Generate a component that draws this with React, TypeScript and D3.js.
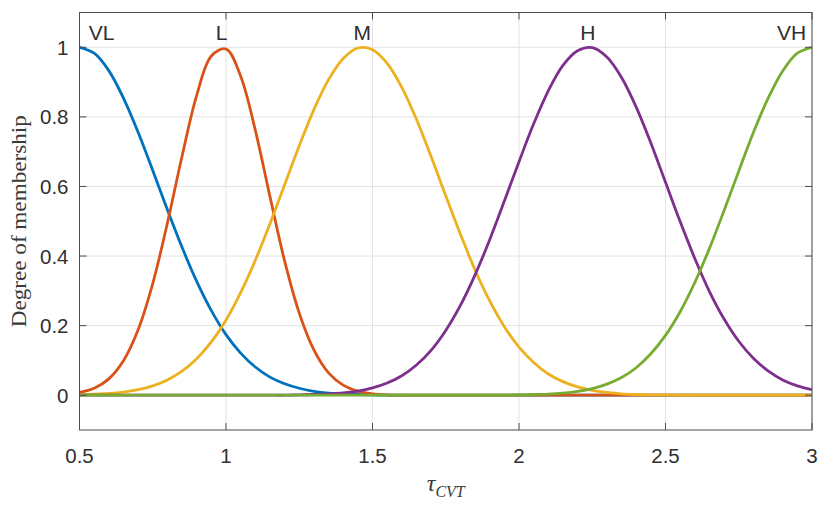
import React from "react";
import * as d3 from "d3";

// Sample grid of the input variable tau_CVT
const tauGrid = [
  0.5, 0.55, 0.6, 0.65, 0.7, 0.75, 0.8, 0.85, 0.9, 0.95,
  1.0, 1.05, 1.1, 1.15, 1.2, 1.25, 1.3, 1.35, 1.4, 1.45,
  1.5, 1.55, 1.6, 1.65, 1.7, 1.75, 1.8, 1.85, 1.9, 1.95,
  2.0, 2.05, 2.1, 2.15, 2.2, 2.25, 2.3, 2.35, 2.4, 2.45,
  2.5, 2.55, 2.6, 2.65, 2.7, 2.75, 2.8, 2.85, 2.9, 2.95,
  3.0,
];

// Membership degrees of each linguistic term on tauGrid
const muVL = [
  1, 0.983, 0.933, 0.854, 0.756, 0.646, 0.533, 0.425, 0.327, 0.243,
  0.174, 0.121, 0.081, 0.052, 0.033, 0.02, 0.011, 0.006, 0.004, 0.002,
  0.001, 0, 0, 0, 0, 0, 0, 0, 0, 0,
  0, 0, 0, 0, 0, 0, 0, 0, 0, 0,
  0, 0, 0, 0, 0, 0, 0, 0, 0, 0,
  0,
];
const muL = [
  0.008, 0.02, 0.047, 0.099, 0.188, 0.321, 0.495, 0.687, 0.862, 0.975,
  0.995, 0.917, 0.762, 0.571, 0.386, 0.236, 0.13, 0.064, 0.029, 0.012,
  0.004, 0.001, 0, 0, 0, 0, 0, 0, 0, 0,
  0, 0, 0, 0, 0, 0, 0, 0, 0, 0,
  0, 0, 0, 0, 0, 0, 0, 0, 0, 0,
  0,
];
const muM = [
  0.001, 0.003, 0.005, 0.009, 0.016, 0.027, 0.044, 0.069, 0.105, 0.153,
  0.216, 0.295, 0.388, 0.493, 0.605, 0.717, 0.821, 0.907, 0.968, 0.998,
  0.993, 0.954, 0.885, 0.793, 0.686, 0.573, 0.463, 0.36, 0.271, 0.197,
  0.138, 0.094, 0.061, 0.039, 0.024, 0.014, 0.008, 0.004, 0.002, 0.001,
  0.001, 0, 0, 0, 0, 0, 0, 0, 0, 0,
  0,
];
const muH = [
  0, 0, 0, 0, 0, 0, 0, 0, 0, 0,
  0, 0, 0, 0, 0, 0.001, 0.002, 0.004, 0.007, 0.012,
  0.021, 0.035, 0.056, 0.087, 0.129, 0.186, 0.258, 0.346, 0.447, 0.558,
  0.671, 0.78, 0.875, 0.948, 0.99, 0.999, 0.972, 0.913, 0.828, 0.725,
  0.612, 0.499, 0.393, 0.298, 0.219, 0.155, 0.106, 0.07, 0.044, 0.027,
  0.016,
];
const muVH = [
  0, 0, 0, 0, 0, 0, 0, 0, 0, 0,
  0, 0, 0, 0, 0, 0, 0, 0, 0, 0,
  0, 0, 0, 0, 0, 0, 0, 0, 0, 0,
  0.001, 0.002, 0.003, 0.006, 0.011, 0.019, 0.032, 0.051, 0.079, 0.119,
  0.172, 0.24, 0.324, 0.422, 0.531, 0.644, 0.755, 0.853, 0.932, 0.983,
  1,
];

const termNames = ["VL", "L", "M", "H", "VH"];
const termLabelTau = [0.575, 0.985, 1.465, 2.235, 2.93];
const xTicks = [0.5, 1, 1.5, 2, 2.5, 3];
const yTicks = [0, 0.2, 0.4, 0.6, 0.8, 1];

const seriesValues = [muVL, muL, muM, muH, muVH];
const colors = ["#0072BD", "#D95319", "#EDB120", "#7E2F8E", "#77AC30"];

const W = 819;
const H = 505;
const margin = { left: 79.5, right: 7, top: 12.5, bottom: 75 };

export default function App() {
  const x = d3
    .scaleLinear()
    .domain([0.5, 3])
    .range([margin.left, W - margin.right]);
  const y = d3
    .scaleLinear()
    .domain([-0.1, 1.1])
    .range([H - margin.bottom, margin.top]);

  const line = d3
    .line<number>()
    .x((_, i) => x(tauGrid[i]))
    .y((d) => y(d))
    .curve(d3.curveCatmullRom.alpha(0.5));

  const x0 = x.range()[0];
  const x1 = x.range()[1];
  const y0 = y.range()[0];
  const y1 = y.range()[1];
  const tickLen = 7;
  const axisColor = "#4d4d4d";
  const textColor = "#303030";
  const sans = "'Liberation Sans', Arial, Helvetica, sans-serif";
  const serif = "'Liberation Serif', 'Times New Roman', serif";

  return (
    <svg
      width={W}
      height={H}
      style={{ position: "absolute", left: 0, top: 0, background: "#fff" }}
    >
      <rect x={0} y={0} width={W} height={H} fill="#fff" />
      <defs>
        <clipPath id="plot-clip">
          <rect x={x0} y={y1} width={x1 - x0} height={y0 - y1} />
        </clipPath>
      </defs>

      {/* grid */}
      <g stroke="#e3e3e3" strokeWidth={1}>
        {xTicks.map((t) => (
          <line key={"gx" + t} x1={x(t)} x2={x(t)} y1={y0} y2={y1} />
        ))}
        {yTicks.map((t) => (
          <line key={"gy" + t} x1={x0} x2={x1} y1={y(t)} y2={y(t)} />
        ))}
      </g>

      {/* membership curves */}
      <g clipPath="url(#plot-clip)" fill="none" strokeWidth={2.8} strokeLinejoin="round">
        {seriesValues.map((vals, i) => (
          <path key={termNames[i]} d={line(vals) || ""} stroke={colors[i]} />
        ))}
      </g>

      {/* term labels */}
      <g fontFamily={sans} fontSize={21} fill={textColor} textAnchor="middle">
        {termNames.map((n, i) => (
          <text key={"lbl" + n} x={x(termLabelTau[i])} y={40}>
            {n}
          </text>
        ))}
      </g>

      {/* box and ticks */}
      <g stroke={axisColor} strokeWidth={1} fill="none">
        <rect x={x0} y={y1} width={x1 - x0} height={y0 - y1} />
        {xTicks.map((t) => (
          <g key={"tx" + t}>
            <line x1={x(t)} x2={x(t)} y1={y0} y2={y0 - tickLen} />
            <line x1={x(t)} x2={x(t)} y1={y1} y2={y1 + tickLen} />
          </g>
        ))}
        {yTicks.map((t) => (
          <g key={"ty" + t}>
            <line x1={x0} x2={x0 + tickLen} y1={y(t)} y2={y(t)} />
            <line x1={x1} x2={x1 - tickLen} y1={y(t)} y2={y(t)} />
          </g>
        ))}
      </g>

      {/* tick labels */}
      <g fontFamily={sans} fontSize={20.5} fill={textColor}>
        {xTicks.map((t) => (
          <text key={"xl" + t} x={x(t)} y={462.5} textAnchor="middle">
            {String(t)}
          </text>
        ))}
        {yTicks.map((t) => (
          <text
            key={"yl" + t}
            x={x0 - 11}
            y={y(t) + 7.5}
            textAnchor="end"
          >
            {String(t)}
          </text>
        ))}
      </g>

      {/* axis titles */}
      <text
        transform={`translate(26, ${(y0 + y1) / 2}) rotate(-90)`}
        textAnchor="middle"
        fontFamily={serif}
        fontSize={21}
        textLength={212}
        lengthAdjust="spacingAndGlyphs"
        fill="#3a3a3a"
      >
        Degree of membership
      </text>
      <text
        x={(x0 + x1) / 2}
        y={491}
        textAnchor="middle"
        fontFamily={serif}
        fontStyle="italic"
        fill="#3a3a3a"
      >
        <tspan fontSize={24}>τ</tspan>
        <tspan fontSize={16} dy={6}>CVT</tspan>
      </text>
    </svg>
  );
}
